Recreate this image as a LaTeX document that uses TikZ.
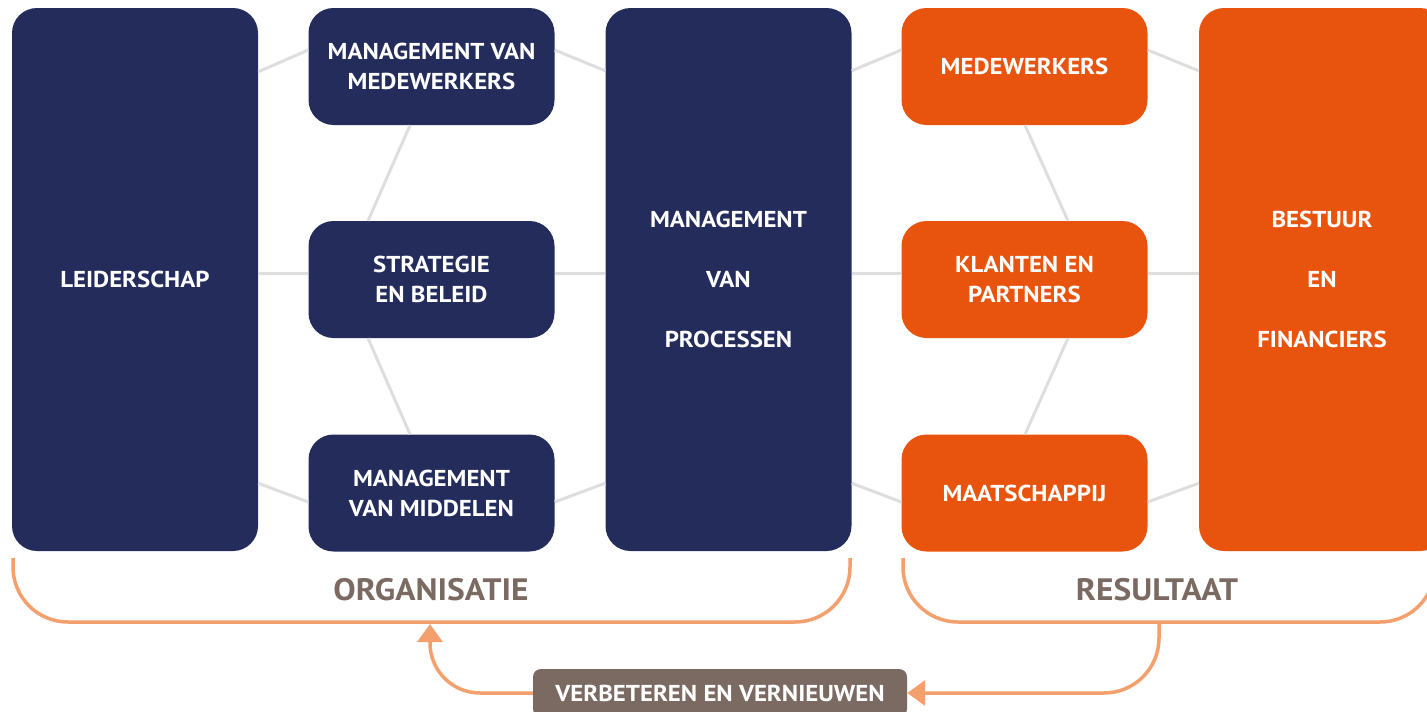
\documentclass[tikz,border=0pt]{standalone}
\usepackage{fontspec}
\setmainfont{PT Sans}[FakeStretch=1.08]
\usetikzlibrary{arrows.meta,calc}
\definecolor{navy}{HTML}{232C5B}
\definecolor{orng}{HTML}{E8540D}
\definecolor{lgrey}{HTML}{DCDEE0}
\definecolor{lorng}{HTML}{F3A06C}
\definecolor{taupe}{HTML}{7A6A62}
\tikzset{
  box/.style={rounded corners=25pt, minimum width=246pt, inner sep=0pt, text=white,
    align=center, font=\bfseries\fontsize{23}{30}\selectfont},
  nbox/.style={box, fill=navy},
  obox/.style={box, fill=orng},
  smallbox/.style={minimum height=117pt},
  tallbox/.style={minimum height=543pt},
  link/.style={draw=lgrey, line width=3pt},
  brk/.style={draw=lorng, line width=3.5pt},
  arr/.style={draw=lorng, line width=3.5pt, -{Triangle[length=18pt,width=25pt]}},
  grouplabel/.style={text=taupe, font=\bfseries\fontsize{31}{35}\selectfont},
  tagbox/.style={fill=taupe, rounded corners=8pt, minimum width=374pt, minimum height=48pt,
    text=white, font=\bfseries\fontsize{23}{27}\selectfont}
}
\begin{document}
\begin{tikzpicture}[x=1pt,y=-1pt]
\useasboundingbox (0,0) rectangle (1427,712);
\clip (0,0) rectangle (1427,712);
% boxes
\node[nbox,tallbox] (L) at (135,279.5) {LEIDERSCHAP};
\node[nbox,smallbox] (MM) at (431.5,66.5) {MANAGEMENT VAN\\MEDEWERKERS};
\node[nbox,smallbox] (SB) at (431.5,279.5) {STRATEGIE\\EN BELEID};
\node[nbox,smallbox] (MI) at (431.5,493) {MANAGEMENT\\VAN MIDDELEN};
\node[nbox,tallbox] (P) at (728.5,279.5) {MANAGEMENT\\[30pt]VAN\\[30pt]PROCESSEN};
\node[obox,smallbox] (ME) at (1024.5,66.5) {MEDEWERKERS};
\node[obox,smallbox] (KP) at (1024.5,279.5) {KLANTEN EN\\PARTNERS};
\node[obox,smallbox] (MA) at (1024.5,493) {MAATSCHAPPIJ};
\node[obox,tallbox] (B) at (1322,279.5) {BESTUUR\\[30pt]EN\\[30pt]FINANCIERS};
% grey links, left group
\draw[link] ($(L.north east)+(0,64)$) -- ($(MM.west)+(0,-16.5)$);
\draw[link] ($(MM.east)+(0,-16.5)$) -- ($(P.north west)+(0,63)$);
\draw[link] ($(MM.south)+(-21.5,0)$) -- ($(SB.north)+(-63.5,0)$);
\draw[link] ($(L.east)+(0,-6)$) -- ($(SB.west)+(0,-6)$);
\draw[link] ($(SB.east)+(0,-6)$) -- ($(P.west)+(0,-6)$);
\draw[link] ($(SB.south)+(-63.5,0)$) -- ($(MI.north)+(-21.5,0)$);
\draw[link] ($(L.south east)+(0,-68)$) -- ($(MI.west)+(0,9)$);
\draw[link] ($(MI.east)+(0,9)$) -- ($(P.south west)+(0,-68)$);
% grey links, right group
\draw[link] ($(P.north east)+(0,63)$) -- ($(ME.west)+(0,-16.5)$);
\draw[link] ($(ME.east)+(0,-16.5)$) -- ($(B.north west)+(0,63)$);
\draw[link] ($(ME.south)+(0.5,0)$) -- ($(KP.north)+(43.5,0)$);
\draw[link] ($(P.east)+(0,-6)$) -- ($(KP.west)+(0,-6)$);
\draw[link] ($(KP.east)+(0,-6)$) -- ($(B.west)+(0,-6)$);
\draw[link] ($(KP.south)+(43.5,0)$) -- ($(MA.north)+(0.5,0)$);
\draw[link] ($(P.south east)+(0,-68)$) -- ($(MA.west)+(0,9)$);
\draw[link] ($(MA.east)+(0,9)$) -- ($(B.south west)+(0,-68)$);
% brackets
\draw[brk, rounded corners=55pt] (13,558) -- (13,622) -- (850,622) -- (850,558);
\draw[brk, rounded corners=55pt] (903,558) -- (903,622) -- (1435,622) -- (1435,558);
\node[grouplabel] (org) at (431,590) {ORGANISATIE};
\node[grouplabel] (res) at (1157,590) {RESULTAAT};
% feedback loop
\coordinate (orgb) at (430,624);
\coordinate (resb) at (1159,622);
\node[tagbox] (V) at (720,693) {VERBETEREN EN VERNIEUWEN};
\draw[arr, rounded corners=50pt] (V.west) -| (orgb);
\draw[arr, rounded corners=55pt] (resb) |- (V.east);
\end{tikzpicture}
\end{document}
